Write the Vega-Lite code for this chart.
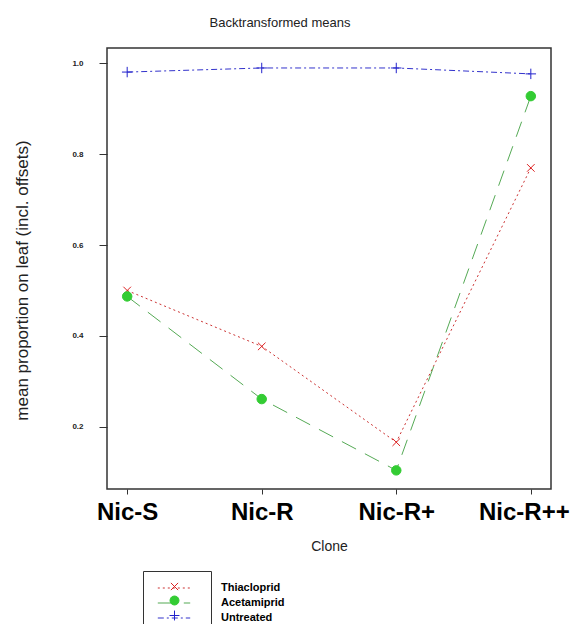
{
  "$schema": "https://vega.github.io/schema/vega-lite/v6.json",
  "width": 444,
  "height": 441,
  "autosize": {"type": "none"},
  "padding": {"left": 107, "top": 48, "right": 20, "bottom": 135},
  "background": "white",
  "config": {
    "view": {"stroke": "#333333", "strokeWidth": 1.5},
    "font": "Liberation Sans"
  },
  "title": {
    "text": "Backtransformed means",
    "fontSize": 13,
    "fontWeight": "normal",
    "font": "Liberation Sans",
    "color": "#222222",
    "dx": -49,
    "offset": 18
  },
  "data": {
    "values": [
      {"clone": "Nic-S", "treatment": "Thiacloprid", "value": 0.500},
      {"clone": "Nic-R", "treatment": "Thiacloprid", "value": 0.377},
      {"clone": "Nic-R+", "treatment": "Thiacloprid", "value": 0.166},
      {"clone": "Nic-R++", "treatment": "Thiacloprid", "value": 0.770},
      {"clone": "Nic-S", "treatment": "Acetamiprid", "value": 0.487},
      {"clone": "Nic-R", "treatment": "Acetamiprid", "value": 0.261},
      {"clone": "Nic-R+", "treatment": "Acetamiprid", "value": 0.104},
      {"clone": "Nic-R++", "treatment": "Acetamiprid", "value": 0.928},
      {"clone": "Nic-S", "treatment": "Untreated", "value": 0.981},
      {"clone": "Nic-R", "treatment": "Untreated", "value": 0.990},
      {"clone": "Nic-R+", "treatment": "Untreated", "value": 0.990},
      {"clone": "Nic-R++", "treatment": "Untreated", "value": 0.977}
    ]
  },
  "encoding": {
    "x": {
      "field": "clone",
      "type": "ordinal",
      "sort": ["Nic-S", "Nic-R", "Nic-R+", "Nic-R++"],
      "scale": {"type": "point", "padding": 0.15},
      "axis": {
        "title": "Clone",
        "labelAngle": 0,
        "labelFontSize": 24,
        "labelFontWeight": "bold",
        "labelColor": "black",
        "labelOffset": {"condition": {"test": "datum.value === 'Nic-R++'", "value": -7}, "value": 0},
        "tickSize": 5,
        "tickColor": "#333333",
        "labelPadding": 6,
        "domain": false,
        "grid": false,
        "titleFontSize": 14,
        "titleFontWeight": "normal",
        "titleColor": "#222222",
        "titlePadding": 15
      }
    },
    "y": {
      "field": "value",
      "type": "quantitative",
      "scale": {"domain": [0.063, 1.034], "zero": false, "nice": false},
      "axis": {
        "title": "mean proportion on leaf (incl. offsets)",
        "values": [0.2, 0.4, 0.6, 0.8, 1.0],
        "format": ".1f",
        "labelFontSize": 8,
        "labelFontWeight": "bold",
        "labelColor": "#222222",
        "tickSize": 8,
        "tickColor": "#333333",
        "labelPadding": 16,
        "domain": false,
        "grid": false,
        "titleFontSize": 17,
        "titleFontWeight": "normal",
        "titleColor": "#222222",
        "titlePadding": 40,
        "titleY": 232
      }
    }
  },
  "layer": [
    {
      "mark": {"type": "line", "strokeWidth": 1},
      "encoding": {
        "color": {
          "field": "treatment",
          "type": "nominal",
          "scale": {"domain": ["Thiacloprid", "Acetamiprid", "Untreated"], "range": ["#cc3333", "#55aa55", "#3333cc"]},
          "legend": {
            "title": null,
            "orient": "none",
            "legendX": 36,
            "legendY": 519,
            "symbolType": "M-2.7,0L2.7,0",
            "symbolSize": 144,
            "symbolOffset": 10,
            "symbolStrokeWidth": 1.2,
            "labelFontSize": 11,
            "labelFontWeight": "bold",
            "labelColor": "black",
            "labelOffset": 40,
            "rowPadding": 3,
            "padding": 14
          }
        },
        "strokeDash": {
          "field": "treatment",
          "type": "nominal",
          "scale": {"domain": ["Thiacloprid", "Acetamiprid", "Untreated"], "range": [[2, 3], [16, 10], [6, 3, 2, 3]]},
          "legend": {
            "title": null,
            "orient": "none",
            "legendX": 36,
            "legendY": 519
          }
        }
      }
    },
    {
      "mark": {"type": "point", "filled": true, "strokeWidth": 1, "opacity": 1, "size": 90},
      "encoding": {
        "shape": {
          "field": "treatment",
          "type": "nominal",
          "sort": {"field": "value", "op": "max"},
          "scale": {"range": ["M-0.8,-0.8L0.8,0.8M-0.8,0.8L0.8,-0.8", "circle", "M-1.1,0L1.1,0M0,-1.1L0,1.1"]},
          "legend": {
            "title": null,
            "orient": "none",
            "legendX": 36,
            "legendY": 523,
            "symbolSize": 81,
            "symbolOffset": 16,
            "symbolStrokeWidth": 1,
            "labelExpr": "''",
            "labelFontSize": 11,
            "labelOffset": 21,
            "rowPadding": 1,
            "padding": 10,
            "strokeColor": "#333333"
          }
        },
        "fill": {
          "field": "treatment",
          "type": "nominal",
          "sort": {"field": "value", "op": "max"},
          "scale": {"range": ["#dd2222", "#33cc33", "#2222cc"]},
          "legend": {
            "title": null,
            "orient": "none",
            "legendX": 36,
            "legendY": 523
          }
        },
        "stroke": {
          "field": "treatment",
          "type": "nominal",
          "sort": {"field": "value", "op": "max"},
          "scale": {"range": ["#dd2222", "#33cc33", "#2222cc"]},
          "legend": {
            "title": null,
            "orient": "none",
            "legendX": 36,
            "legendY": 523
          }
        }
      }
    }
  ]
}
